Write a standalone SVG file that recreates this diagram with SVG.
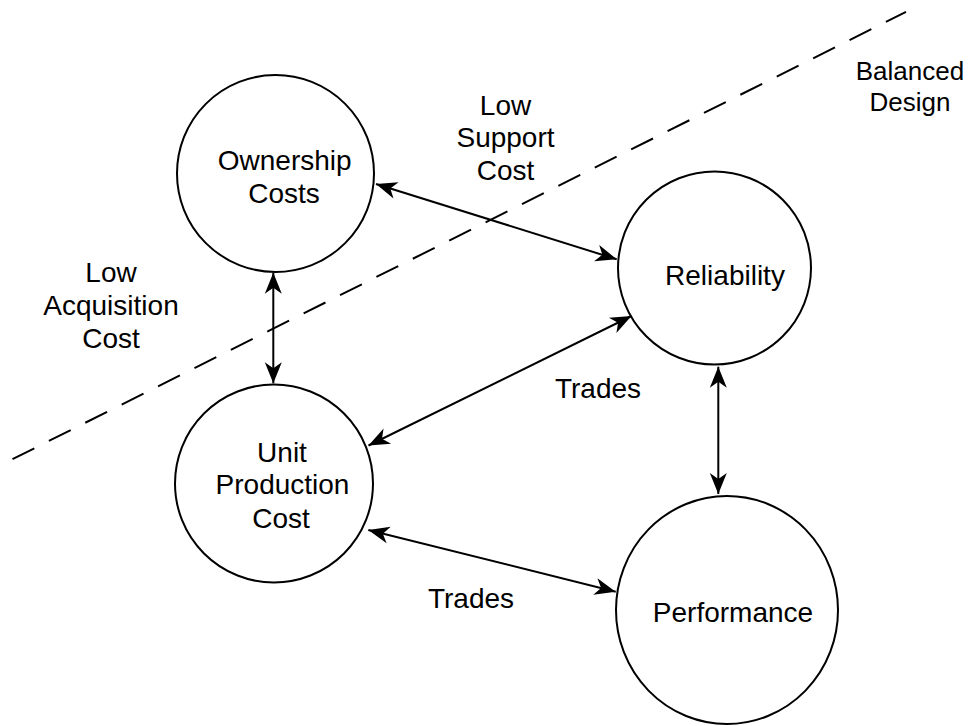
<svg xmlns="http://www.w3.org/2000/svg" width="969" height="726" viewBox="0 0 969 726">
<style>
  .node { fill: #ffffff; stroke: #000000; stroke-width: 2; }
  .lbl { font-family: "Liberation Sans", Arial, sans-serif; font-size: 28px; fill: #000000; text-anchor: middle; }
  .sm { font-size: 26px; }
  .conn { stroke: #000000; stroke-width: 2; fill: none; marker-start: url(#ah); marker-end: url(#ah); }
  .dash { stroke: #000000; stroke-width: 2; fill: none; stroke-dasharray: 24.4 16.3; }
</style>
<defs>
  <marker id="ah" viewBox="-23 -11 25 22" refX="0" refY="0" markerWidth="25" markerHeight="22" markerUnits="userSpaceOnUse" orient="auto-start-reverse">
    <path d="M0,0 L-21,-8.5 L-15,0 L-21,8.5 Z" fill="#000000"/>
  </marker>
</defs>
<rect x="0" y="0" width="969" height="726" fill="#ffffff"/>

<g id="boundary">
  <line class="dash" x1="12.5" y1="459.2" x2="906" y2="11.8"/>
  <text class="lbl sm" x="910" y="80">Balanced</text>
  <text class="lbl sm" x="910" y="110.5">Design</text>
</g>

<g id="node-ownership">
  <circle class="node" cx="275.5" cy="173.5" r="98.5"/>
  <text class="lbl" x="284.7" y="170">Ownership</text>
  <text class="lbl" x="284" y="202.7">Costs</text>
</g>

<g id="node-reliability">
  <circle class="node" cx="714.5" cy="268" r="96.5"/>
  <text class="lbl" x="725" y="285">Reliability</text>
</g>

<g id="node-unit">
  <circle class="node" cx="274" cy="483.5" r="99"/>
  <text class="lbl" x="282" y="461.7">Unit</text>
  <text class="lbl" x="282.5" y="494.3">Production</text>
  <text class="lbl" x="281" y="527.7">Cost</text>
</g>

<g id="node-performance">
  <ellipse class="node" cx="727" cy="610" rx="111" ry="114"/>
  <text class="lbl" x="733" y="621.7">Performance</text>
</g>

<g id="connectors">
  <line class="conn" x1="376" y1="184" x2="616.7" y2="259.3"/>
  <line class="conn" x1="273.3" y1="272.7" x2="273.3" y2="383.3"/>
  <line class="conn" x1="718.3" y1="366.7" x2="718.3" y2="494"/>
  <line class="conn" x1="631.5" y1="316" x2="368.5" y2="445.5"/>
  <line class="conn" x1="368.3" y1="530" x2="615.7" y2="591.7"/>
</g>

<g id="labels">
  <text class="lbl" x="505.5" y="115">Low</text>
  <text class="lbl" x="505.5" y="146.7">Support</text>
  <text class="lbl" x="505.5" y="180">Cost</text>
  <text class="lbl" x="111" y="282.3">Low</text>
  <text class="lbl" x="111" y="315">Acquisition</text>
  <text class="lbl" x="111" y="348.3">Cost</text>
  <text class="lbl" x="598" y="398">Trades</text>
  <text class="lbl" x="471" y="608">Trades</text>
</g>
</svg>
